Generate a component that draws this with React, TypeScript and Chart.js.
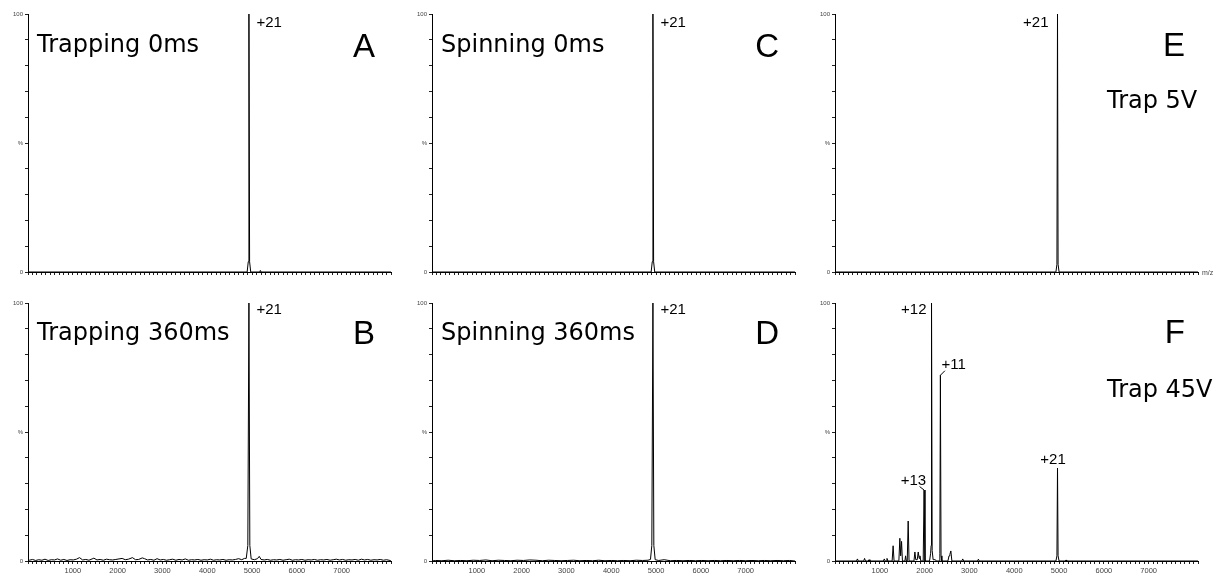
import React, { useEffect, useRef } from 'react';
import { Chart, registerables } from 'chart.js';

Chart.register(...registerables);

type Pt = [number, number];

// ---------- axes ----------
const MZ_MIN = 0;
const MZ_MAX = 8100;
const MZ_TICK_STEP = 100;
const MZ_TICK_LABELS = [1000, 2000, 3000, 4000, 5000, 6000, 7000];
const INTENSITY_MIN = 0;
const INTENSITY_MAX = 100;
const INTENSITY_TICK_STEP = 10;
const INTENSITY_TICK_LABELS: Record<number, string> = { 0: '0', 50: '%', 100: '100' };

// ---------- spectra: [m/z, relative intensity %] ----------
const trapping0ms: Pt[] = [
  [0, 0], [4890, 0], [4915, 4], [4930, 100], [4945, 4], [4970, 0],
  [5170, 0], [5185, 0.6], [5200, 0], [8100, 0],
];

const trapping360msPeaks: Pt[] = [
  [4870, 1.0], [4905, 6], [4930, 100], [4950, 6], [4980, 0.8],
];
const trapping360msNoise: Pt[] = [
  [0, 0], [30, 0.3], [100, 0.6], [170, 0.2], [240, 0.5], [310, 0.3], [380, 0.7], [450, 0.2],
  [520, 0.5], [590, 0.4], [660, 0.8], [730, 0.3], [800, 0.6], [870, 0.2], [940, 0.5],
  [1010, 0.4], [1080, 0.7], [1150, 1.3], [1220, 0.4], [1290, 0.6], [1360, 0.3], [1430, 0.8],
  [1470, 1.1], [1540, 0.4], [1610, 0.6], [1680, 0.3], [1750, 0.7], [1820, 0.5], [1890, 0.4],
  [1960, 0.6], [2030, 0.8], [2100, 1.0], [2170, 0.5], [2240, 0.7], [2330, 1.3], [2400, 0.5],
  [2470, 0.6], [2550, 1.2], [2600, 0.9], [2670, 0.4], [2740, 0.6], [2810, 0.3], [2880, 0.9],
  [2950, 0.4], [3020, 0.6], [3090, 0.3], [3160, 0.5], [3230, 0.7], [3300, 0.3], [3370, 0.6],
  [3440, 0.4], [3510, 0.8], [3580, 0.3], [3650, 0.5], [3720, 0.4], [3790, 0.6], [3860, 0.3],
  [3930, 0.5], [4000, 0.4], [4070, 0.7], [4140, 0.3], [4210, 0.5], [4280, 0.4], [4350, 0.6],
  [4420, 0.3], [4490, 0.5], [4560, 0.4], [4630, 0.6], [4700, 0.9], [4770, 0.5], [4830, 1.0],
  [5050, 0.5], [5120, 0.9], [5160, 1.8], [5200, 0.6], [5270, 0.4], [5340, 0.6], [5410, 0.3],
  [5480, 0.5], [5550, 0.4], [5620, 0.6], [5690, 0.3], [5760, 0.5], [5830, 0.7], [5900, 0.3],
  [5970, 0.5], [6040, 0.4], [6110, 0.6], [6180, 0.3], [6250, 0.5], [6320, 0.4], [6390, 0.6],
  [6460, 0.3], [6530, 0.5], [6600, 0.4], [6670, 0.6], [6740, 0.3], [6810, 0.5], [6880, 0.7],
  [6950, 0.4], [7020, 0.6], [7090, 0.3], [7160, 0.5], [7230, 0.4], [7300, 0.6], [7370, 0.3],
  [7440, 0.7], [7510, 0.4], [7580, 0.6], [7650, 0.3], [7720, 0.5], [7790, 0.4], [7860, 0.6],
  [7930, 0.3], [8000, 0.5], [8080, 0.2], [8100, 0],
];

const spinning0ms: Pt[] = [
  [0, 0], [4890, 0], [4915, 4], [4930, 100], [4945, 4], [4970, 0], [8100, 0],
];

const spinning360msPeaks: Pt[] = [
  [4875, 0.6], [4905, 6], [4930, 100], [4950, 6], [4980, 0.5],
];
const spinning360msNoise: Pt[] = [
  [0, 0], [80, 0.2], [220, 0.1], [360, 0.3], [500, 0.1], [640, 0.2], [780, 0.1], [920, 0.3],
  [1060, 0.2], [1200, 0.4], [1340, 0.1], [1480, 0.3], [1620, 0.2], [1760, 0.1], [1900, 0.3],
  [2040, 0.2], [2180, 0.4], [2320, 0.3], [2460, 0.1], [2600, 0.3], [2740, 0.2], [2880, 0.1],
  [3020, 0.2], [3160, 0.3], [3300, 0.1], [3440, 0.2], [3580, 0.1], [3720, 0.3], [3860, 0.1],
  [4000, 0.2], [4140, 0.1], [4280, 0.2], [4420, 0.1], [4560, 0.3], [4700, 0.2], [4820, 0.3],
  [5060, 0.2], [5180, 0.5], [5320, 0.1], [5460, 0.2], [5600, 0.1], [5740, 0.2], [5880, 0.1],
  [6020, 0.2], [6160, 0.1], [6300, 0.2], [6440, 0.1], [6580, 0.2], [6720, 0.1], [6860, 0.2],
  [7000, 0.1], [7140, 0.2], [7280, 0.1], [7420, 0.2], [7560, 0.1], [7700, 0.2], [7840, 0.1],
  [7980, 0.2], [8100, 0],
];

const trap5V: Pt[] = [
  [0, 0], [4930, 0], [4952, 3], [4965, 100], [4978, 3], [5000, 0], [8100, 0],
];

const trap45V: Pt[] = [
  [0, 0], [480, 0], [500, 0.8], [520, 0], [640, 0], [660, 1.0], [680, 0], [740, 0], [760, 0.5],
  [780, 0], [1080, 0], [1100, 0.8], [1120, 0], [1140, 0], [1160, 1.0], [1180, 0], [1275, 0],
  [1297, 5.9], [1318, 0], [1425, 0], [1447, 8.8], [1466, 2], [1485, 7.6], [1505, 0], [1560, 0],
  [1575, 2], [1592, 0], [1612, 0], [1633, 15.5], [1652, 0], [1762, 0], [1783, 3.5], [1802, 0.5],
  [1835, 0.5], [1857, 3.5], [1878, 1], [1895, 2], [1915, 0], [1968, 0], [1988, 27.5], [2008, 0],
  [2110, 0], [2134, 3], [2145, 6], [2154, 100], [2168, 4], [2190, 0.5], [2240, 0.5], [2260, 0],
  [2332, 0], [2340, 3], [2352, 72], [2366, 2], [2385, 0], [2520, 0], [2544, 2], [2562, 2.5],
  [2585, 3.9], [2608, 0], [2830, 0], [2850, 0.8], [2870, 0], [3180, 0], [3200, 0.7], [3220, 0],
  [4930, 0], [4952, 2], [4965, 36], [4978, 2], [5000, 0], [5140, 0], [5155, 0.4], [5170, 0],
  [8100, 0],
];

// ---------- panel layout & annotations ----------
type PeakLabel = {
  text: string; mz: number; y: number; dx: number; dy: number;
  align: CanvasTextAlign; hook?: [number, number];
};
type Panel = {
  id: string; left: number; top: number; width: number; height: number;
  padTop: number; padRight: number; xAxisHeight: number;
  mzLabels: boolean; mzUnit: boolean; data: Pt[];
  title: string; titleX: number; titleY: number;
  sub?: string; subX?: number; subY?: number;
  letter: string; letterX: number; letterY: number;
  peaks: PeakLabel[];
};

const merge = (...parts: Pt[][]): Pt[] => parts.flat().slice().sort((a, b) => a[0] - b[0]);

const panels: Panel[] = [
  {
    id: 'A', left: 0, top: 0, width: 404, height: 288, padTop: 14, padRight: 13, xAxisHeight: 16,
    mzLabels: false, mzUnit: false, data: trapping0ms,
    title: 'Trapping 0ms', titleX: 9, titleY: 38, letter: 'A', letterX: 347, letterY: 43,
    peaks: [{ text: '+21', mz: 4930, y: 100, dx: 7.5, dy: 12.5, align: 'left' }],
  },
  {
    id: 'B', left: 0, top: 288, width: 404, height: 288, padTop: 15, padRight: 13, xAxisHeight: 15,
    mzLabels: true, mzUnit: false, data: merge(trapping360msNoise, trapping360msPeaks),
    title: 'Trapping 360ms', titleX: 9, titleY: 37, letter: 'B', letterX: 347, letterY: 41,
    peaks: [{ text: '+21', mz: 4930, y: 100, dx: 7.5, dy: 10.5, align: 'left' }],
  },
  {
    id: 'C', left: 404, top: 0, width: 403, height: 288, padTop: 14, padRight: 12, xAxisHeight: 16,
    mzLabels: false, mzUnit: false, data: spinning0ms,
    title: 'Spinning 0ms', titleX: 9, titleY: 38, letter: 'C', letterX: 347, letterY: 43,
    peaks: [{ text: '+21', mz: 4930, y: 100, dx: 7.5, dy: 12.5, align: 'left' }],
  },
  {
    id: 'D', left: 404, top: 288, width: 403, height: 288, padTop: 15, padRight: 12, xAxisHeight: 15,
    mzLabels: true, mzUnit: false, data: merge(spinning360msNoise, spinning360msPeaks),
    title: 'Spinning 360ms', titleX: 9, titleY: 37, letter: 'D', letterX: 347, letterY: 41,
    peaks: [{ text: '+21', mz: 4930, y: 100, dx: 7.5, dy: 10.5, align: 'left' }],
  },
  {
    id: 'E', left: 807, top: 0, width: 415, height: 288, padTop: 14, padRight: 24, xAxisHeight: 16,
    mzLabels: false, mzUnit: true, data: trap5V,
    title: '', titleX: 0, titleY: 0, sub: 'Trap 5V', subX: 272, subY: 94,
    letter: 'E', letterX: 350, letterY: 42,
    peaks: [{ text: '+21', mz: 4965, y: 100, dx: -9, dy: 13, align: 'right' }],
  },
  {
    id: 'F', left: 807, top: 288, width: 415, height: 288, padTop: 15, padRight: 24, xAxisHeight: 15,
    mzLabels: true, mzUnit: false, data: trap45V,
    title: '', titleX: 0, titleY: 0, sub: 'Trap 45V', subX: 272, subY: 94,
    letter: 'F', letterX: 350, letterY: 40,
    peaks: [
      { text: '+12', mz: 2154, y: 100, dx: -5, dy: 11, align: 'right' },
      { text: '+11', mz: 2352, y: 72, dx: 1, dy: -6, align: 'left', hook: [4.5, -4.5] },
      { text: '+13', mz: 1988, y: 27.5, dx: 2, dy: -5, align: 'right', hook: [-4.5, -3.5] },
      { text: '+21', mz: 4965, y: 36, dx: -4.5, dy: -4.5, align: 'center' },
    ],
  },
];

const TITLE_FONT = '24px "DejaVu Sans"';
const LETTER_FONT = '33px "Liberation Sans"';
const PEAK_FONT = '15px "Liberation Sans"';
const TICK_FAMILY = '"Liberation Sans", Arial, sans-serif';

function SpectrumPanel({ p }: { p: Panel }) {
  const ref = useRef<HTMLCanvasElement>(null);

  useEffect(() => {
    const canvas = ref.current;
    if (!canvas) return;

    const annotate = {
      id: 'annotate' + p.id,
      afterDatasetsDraw(chart: any) {
        const { ctx, chartArea: a, scales } = chart;
        const xs = scales.x;
        const ys = scales.y;
        ctx.save();
        ctx.fillStyle = '#000';
        ctx.strokeStyle = '#000';
        ctx.textBaseline = 'alphabetic';
        if (p.title) {
          ctx.font = TITLE_FONT;
          ctx.textAlign = 'left';
          ctx.fillText(p.title, a.left + p.titleX, a.top + p.titleY);
        }
        if (p.sub) {
          ctx.font = TITLE_FONT;
          ctx.textAlign = 'left';
          ctx.fillText(p.sub, a.left + (p.subX || 0), a.top + (p.subY || 0));
        }
        ctx.font = LETTER_FONT;
        ctx.textAlign = 'right';
        ctx.fillText(p.letter, a.left + p.letterX, a.top + p.letterY);

        ctx.font = PEAK_FONT;
        for (const l of p.peaks) {
          const px = xs.getPixelForValue(l.mz);
          const py = ys.getPixelForValue(l.y);
          if (l.hook) {
            ctx.beginPath();
            ctx.lineWidth = 1;
            ctx.moveTo(px, py);
            ctx.lineTo(px + l.hook[0], py + l.hook[1]);
            ctx.stroke();
          }
          ctx.textAlign = l.align;
          ctx.fillText(l.text, px + l.dx, py + l.dy);
        }

        if (p.mzUnit) {
          ctx.font = '7px ' + TICK_FAMILY;
          ctx.fillStyle = '#444';
          ctx.textAlign = 'left';
          ctx.textBaseline = 'middle';
          ctx.fillText('m/z', a.right + 4, a.bottom + 1);
        }
        ctx.restore();
      },
    };

    const chart = new Chart(canvas, {
      type: 'line',
      data: {
        datasets: [
          {
            data: p.data.map(([x, y]) => ({ x, y })),
            borderColor: '#000',
            borderWidth: 1,
            pointRadius: 0,
            tension: 0,
            fill: false,
          },
        ],
      },
      options: {
        responsive: false,
        animation: false,
        events: [],
        layout: { padding: { top: p.padTop, right: p.padRight, left: 0, bottom: 0 } },
        plugins: { legend: { display: false }, tooltip: { enabled: false }, title: { display: false } },
        scales: {
          x: {
            type: 'linear',
            min: MZ_MIN,
            max: MZ_MAX,
            afterFit: (s: any) => { s.height = p.xAxisHeight; },
            border: { display: true, color: '#000', width: 1 },
            grid: { drawOnChartArea: false, drawTicks: true, tickLength: 3, tickColor: '#222' },
            ticks: {
              stepSize: MZ_TICK_STEP,
              autoSkip: false,
              maxRotation: 0,
              minRotation: 0,
              padding: 2,
              color: '#444',
              font: { family: TICK_FAMILY, size: 7.5 },
              callback: (v: any) => {
                const n = Math.round(Number(v));
                return p.mzLabels && MZ_TICK_LABELS.includes(n) ? String(n) : '';
              },
            },
          },
          y: {
            type: 'linear',
            min: INTENSITY_MIN,
            max: INTENSITY_MAX,
            afterFit: (s: any) => { s.width = 28; },
            border: { display: true, color: '#000', width: 1 },
            grid: { drawOnChartArea: false, drawTicks: true, tickLength: 3, tickColor: '#222' },
            ticks: {
              stepSize: INTENSITY_TICK_STEP,
              autoSkip: false,
              padding: 2,
              color: '#444',
              font: { family: TICK_FAMILY, size: 6 },
              callback: (v: any) => INTENSITY_TICK_LABELS[Math.round(Number(v))] ?? '',
            },
          },
        },
      },
      plugins: [annotate],
    });
    return () => chart.destroy();
  }, [p]);

  return (
    <canvas
      ref={ref}
      width={p.width}
      height={p.height}
      style={{ position: 'absolute', left: p.left, top: p.top, width: p.width, height: p.height }}
    />
  );
}

export default function App() {
  return (
    <div style={{ position: 'fixed', left: 0, top: 0, width: 1222, height: 576, background: '#fff', overflow: 'hidden' }}>
      {panels.map((p) => (
        <SpectrumPanel key={p.id} p={p} />
      ))}
    </div>
  );
}
